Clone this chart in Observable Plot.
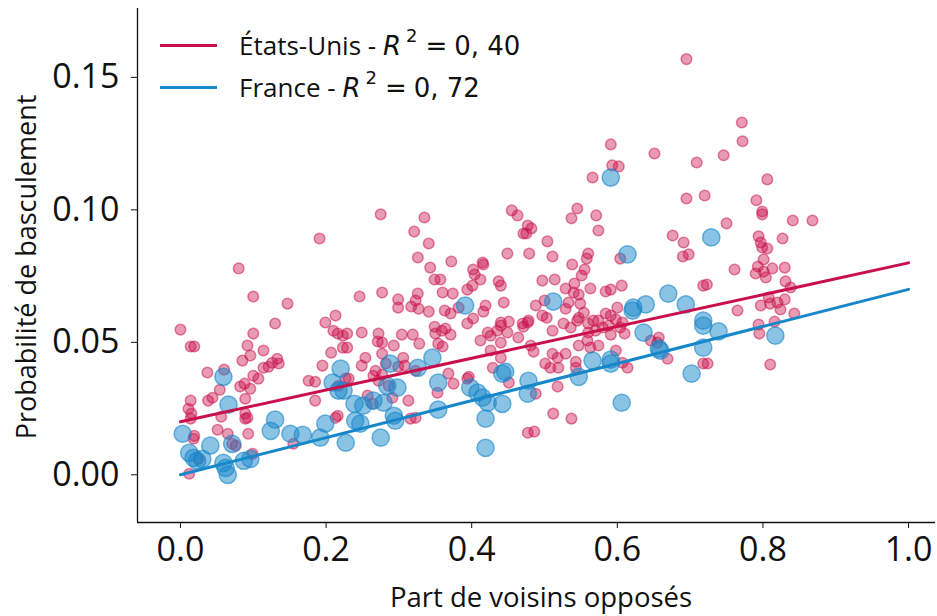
<!DOCTYPE html>
<html>
<head>
<meta charset="utf-8">
<script src="https://cdn.jsdelivr.net/npm/d3@7"></script>
<script src="https://cdn.jsdelivr.net/npm/@observablehq/plot@0.6"></script>
<style>
  html, body { margin: 0; padding: 0; background: #fff; }
  #wrap { position: relative; width: 937px; height: 616px; font-family: "Open Sans", sans-serif; color: #111; }
  #wrap svg { position: absolute; left: 0; top: 0; }
  .lab { position: absolute; white-space: nowrap; font-size: 27.5px; }
  #xlab { left: 0; width: 1082px; text-align: center; top: 578px; }
  #ylab { left: 25px; top: 267px; transform: translate(-50%, -50%) rotate(-90deg); font-size: 27px; }
  #legend { position: absolute; left: 160px; top: 24px; font-size: 26px; }
  .row { display: flex; align-items: center; height: 42px; white-space: pre; }
  .sw { display: inline-block; width: 57px; height: 3px; margin-right: 22px; }
  .row i { font-family: "DejaVu Sans", sans-serif; font-style: italic; font-size: 26px; }
  .row sup { font-size: 18px; font-family: "DejaVu Sans", sans-serif; margin-left: 5px; position: relative; top: -3px; }
  .m { font-family: "DejaVu Sans", sans-serif; font-size: 26px; }
  .eq { margin: 0 7px 0 8px; }
</style>
</head>
<body>
<div id="wrap">
  <div id="legend">
    <div class="row"><span class="sw" style="background:#c9104b"></span><span>États-Unis - <i>R</i><sup>2</sup><span class="m"><span class="eq">=</span>0, 40</span></span></div>
    <div class="row"><span class="sw" style="background:#1787c9"></span><span>France - <i>R</i><sup>2</sup><span class="m"><span class="eq">=</span>0, 72</span></span></div>
  </div>
  <div class="lab" id="xlab">Part de voisins opposés</div>
  <div class="lab" id="ylab">Probabilité de basculement</div>
</div>
<script>
const usX = [0.000,0.014,0.019,0.080,0.100,0.100,0.092,0.096,0.114,0.085,0.037,0.060,0.100,0.107,0.114,0.121,0.126,0.133,0.135,0.082,0.088,0.096,0.054,0.038,0.044,0.014,0.089,0.011,0.015,0.014,0.056,0.089,0.089,0.092,0.051,0.065,0.019,0.018,0.093,0.071,0.076,0.155,0.099,0.012,0.025,0.147,0.130,
  0.199,0.213,0.210,0.216,0.223,0.207,0.195,0.176,0.185,0.185,0.216,0.213,0.223,0.191,0.227,0.217,
  0.246,0.277,0.299,0.299,0.326,0.323,0.317,0.327,0.341,0.360,0.374,0.363,0.371,0.394,0.382,0.402,0.394,0.419,0.416,0.444,0.440,0.451,0.470,
  0.229,0.229,0.249,0.272,0.271,0.277,0.293,0.277,0.254,0.249,0.304,0.319,0.328,0.349,0.350,0.359,0.364,0.371,0.354,0.360,0.306,0.308,0.282,0.268,0.265,0.277,0.272,
  0.412,0.422,0.426,0.435,0.440,0.449,0.464,0.471,0.477,0.440,0.426,0.440,0.429,0.368,0.375,0.394,0.451,0.231,0.257,0.264,0.286,0.291,0.313,0.353,0.316,0.323,0.323,0.299,
  0.326,0.372,0.343,0.402,0.404,0.416,0.349,0.357,0.412,0.401,0.437,0.440,0.449,0.275,0.335,0.321,0.341,0.455,0.463,0.477,0.471,0.415,0.396,0.477,
  0.504,0.574,0.479,0.511,0.538,0.558,0.560,0.555,0.551,0.676,0.691,0.690,0.698,0.604,0.497,0.514,0.529,0.541,0.540,0.547,0.563,0.584,0.591,0.606,0.488,0.500,0.503,0.497,0.529,0.533,0.549,0.554,0.547,0.545,0.478,0.511,0.526,0.536,
  0.560,0.567,0.574,0.584,0.591,0.600,0.598,0.607,0.588,0.580,0.560,0.570,0.591,0.610,0.604,0.547,0.559,0.574,0.563,0.485,0.511,0.518,0.529,0.501,0.508,0.519,0.543,0.543,0.598,0.607,0.614,0.657,0.655,0.646,0.669,0.718,0.718,0.518,0.488,0.512,0.537,0.486,
  0.695,0.591,0.651,0.593,0.602,0.566,0.545,0.537,0.571,0.482,0.475,0.481,
  0.771,0.772,0.746,0.806,0.709,0.695,0.720,0.791,0.799,0.799,0.750,0.841,0.868,0.794,0.797,0.799,0.806,0.827,0.761,0.801,0.793,0.790,0.804,0.801,0.813,0.830,0.831,0.838,0.723,0.808,0.810,0.820,0.824,0.830,0.797,0.765,0.843,0.816,0.794,0.795,0.724,0.810];
const usY = [0.0548,0.0484,0.0484,0.0779,0.0673,0.0533,0.0488,0.0450,0.0469,0.0431,0.0386,0.0397,0.0374,0.0363,0.0404,0.0408,0.0423,0.0438,0.0420,0.0333,0.0344,0.0325,0.0321,0.0280,0.0291,0.0280,0.0287,0.0249,0.0231,0.0212,0.0219,0.0231,0.0212,0.0215,0.0170,0.0155,0.0147,0.0136,0.0155,0.0117,0.0110,0.0117,0.0079,0.0004,0.0060,0.0646,0.0571,
  0.0575,0.0601,0.0544,0.0533,0.0525,0.0461,0.0412,0.0355,0.0351,0.0280,0.0223,0.0215,0.0480,0.0892,0.0363,0.0336,
  0.0673,0.0688,0.0662,0.0631,0.0684,0.0658,0.0635,0.0627,0.0616,0.0688,0.0684,0.0620,0.0609,0.0699,0.0631,0.0590,0.0571,0.0639,0.0616,0.0650,0.0575,0.0578,0.0571,
  0.0533,0.0480,0.0537,0.0533,0.0503,0.0499,0.0488,0.0457,0.0442,0.0412,0.0529,0.0529,0.0495,0.0559,0.0533,0.0544,0.0552,0.0529,0.0495,0.0484,0.0442,0.0412,0.0420,0.0393,0.0374,0.0378,0.0355,
  0.0507,0.0537,0.0525,0.0544,0.0563,0.0537,0.0518,0.0559,0.0575,0.0499,0.0469,0.0442,0.0404,0.0382,0.0344,0.0363,0.0348,0.0363,0.0299,0.0268,0.0336,0.0291,0.0280,0.0310,0.0212,0.0215,0.0393,0.0408,
  0.0820,0.0805,0.0782,0.0775,0.0756,0.0794,0.0737,0.0737,0.0737,0.0714,0.0730,0.0714,0.0835,0.0983,0.0971,0.0918,0.0873,0.0998,0.0979,0.0941,0.0911,0.0801,0.0370,0.0159,
  0.0881,0.0922,0.0835,0.0824,0.0794,0.0816,0.0835,0.0775,0.0752,0.0903,0.0877,0.0824,0.0832,0.0816,0.0733,0.0737,0.0703,0.0722,0.0688,0.0680,0.0703,0.0692,0.0699,0.0714,0.0639,0.0658,0.0593,0.0601,0.0627,0.0650,0.0646,0.0612,0.0593,0.0582,0.0582,0.0544,0.0571,0.0556,
  0.0571,0.0582,0.0582,0.0609,0.0601,0.0631,0.0586,0.0575,0.0563,0.0556,0.0537,0.0544,0.0529,0.0533,0.0556,0.0488,0.0507,0.0488,0.0480,0.0465,0.0457,0.0442,0.0457,0.0420,0.0404,0.0404,0.0427,0.0404,0.0469,0.0423,0.0404,0.0518,0.0499,0.0507,0.0438,0.0714,0.0420,0.0333,0.0306,0.0231,0.0212,0.0163,
  0.1569,0.1247,0.1213,0.1168,0.1164,0.1122,0.1005,0.0968,0.0979,0.0930,0.0911,0.0488,
  0.1330,0.1259,0.1206,0.1115,0.1179,0.1043,0.1054,0.1036,0.0994,0.0983,0.0949,0.0960,0.0960,0.0900,0.0877,0.0858,0.0854,0.0892,0.0775,0.0813,0.0786,0.0760,0.0745,0.0767,0.0779,0.0782,0.0730,0.0707,0.0718,0.0669,0.0646,0.0650,0.0624,0.0662,0.0639,0.0620,0.0609,0.0578,0.0567,0.0533,0.0420,0.0416];
const frX = [0.059,0.066,0.003,0.130,0.124,0.151,0.168,0.192,0.199,0.227,0.275,0.041,0.071,0.012,0.018,0.023,0.030,0.059,0.062,0.065,0.087,0.096,0.220,0.209,0.217,0.224,0.239,0.251,0.265,0.279,0.240,0.247,0.288,0.284,0.298,0.293,0.295,0.326,0.346,0.354,0.354,0.391,0.398,0.408,0.415,0.422,0.442,0.419,0.419,0.442,0.446,0.478,0.477,0.512,0.591,0.614,0.670,0.694,0.622,0.639,0.621,0.718,0.718,0.739,0.636,0.657,0.659,0.718,0.566,0.591,0.591,0.547,0.702,0.606,0.729,0.817];
const frY = [0.0370,0.0265,0.0155,0.0208,0.0166,0.0155,0.0151,0.0140,0.0193,0.0121,0.0140,0.0110,0.0117,0.0083,0.0064,0.0053,0.0060,0.0045,0.0026,0.0000,0.0053,0.0060,0.0401,0.0348,0.0318,0.0318,0.0268,0.0261,0.0280,0.0272,0.0204,0.0193,0.0420,0.0336,0.0329,0.0223,0.0204,0.0404,0.0442,0.0348,0.0246,0.0639,0.0329,0.0310,0.0291,0.0272,0.0268,0.0212,0.0102,0.0382,0.0389,0.0355,0.0306,0.0654,0.1122,0.0832,0.0684,0.0643,0.0631,0.0643,0.0620,0.0582,0.0563,0.0541,0.0537,0.0476,0.0469,0.0480,0.0431,0.0435,0.0420,0.0370,0.0382,0.0272,0.0896,0.0525];
const fitX = [0, 1];
const usFitY = [0.02, 0.08];
const frFitY = [0.0, 0.07];
const xTicks = [0, 0.2, 0.4, 0.6, 0.8, 1.0];
const yTicks = [0, 0.05, 0.10, 0.15];
const xDomain = [-0.059, 1.037];
const yDomain = [-0.018, 0.176];

const RED = "#c9104b";
const BLUE = "#1787c9";

const zip = (xs, ys) => xs.slice(0, Math.min(xs.length, ys.length)).map((x, i) => ({x, y: ys[i]}));
const us = zip(usX, usY);
const fr = zip(frX, frY);
const usFit = zip(fitX, usFitY);
const frFit = zip(fitX, frFitY);

const chart = Plot.plot({
  width: 937,
  height: 616,
  marginLeft: 137,
  marginRight: 2,
  marginTop: 8,
  marginBottom: 94,
  x: {domain: xDomain},
  y: {domain: yDomain},
  style: {fontFamily: "Open Sans, sans-serif", background: "transparent", color: "#111"},
  marks: [
    Plot.dot(us, {x: "x", y: "y", r: 5.3, fill: RED, fillOpacity: 0.42, stroke: RED, strokeOpacity: 0.5, strokeWidth: 1.5}),
    Plot.dot(fr, {x: "x", y: "y", r: 8.6, fill: BLUE, fillOpacity: 0.5, stroke: BLUE, strokeOpacity: 0.6, strokeWidth: 1.5}),
    Plot.line(usFit, {x: "x", y: "y", stroke: RED, strokeWidth: 3}),
    Plot.line(frFit, {x: "x", y: "y", stroke: BLUE, strokeWidth: 3}),
    Plot.axisX(xTicks, {tickSize: 6, tickPadding: 8, fontSize: 34, tickFormat: d3.format(".1f"), label: null}),
    Plot.axisY(yTicks, {tickSize: 6, tickPadding: 12, fontSize: 34, tickFormat: d3.format(".2f"), label: null}),
    Plot.ruleX([xDomain[0]], {stroke: "#111", strokeWidth: 1.3}),
    Plot.ruleY([yDomain[0]], {stroke: "#111", strokeWidth: 1.3})
  ]
});
document.getElementById("wrap").prepend(chart);
</script>
</body>
</html>
